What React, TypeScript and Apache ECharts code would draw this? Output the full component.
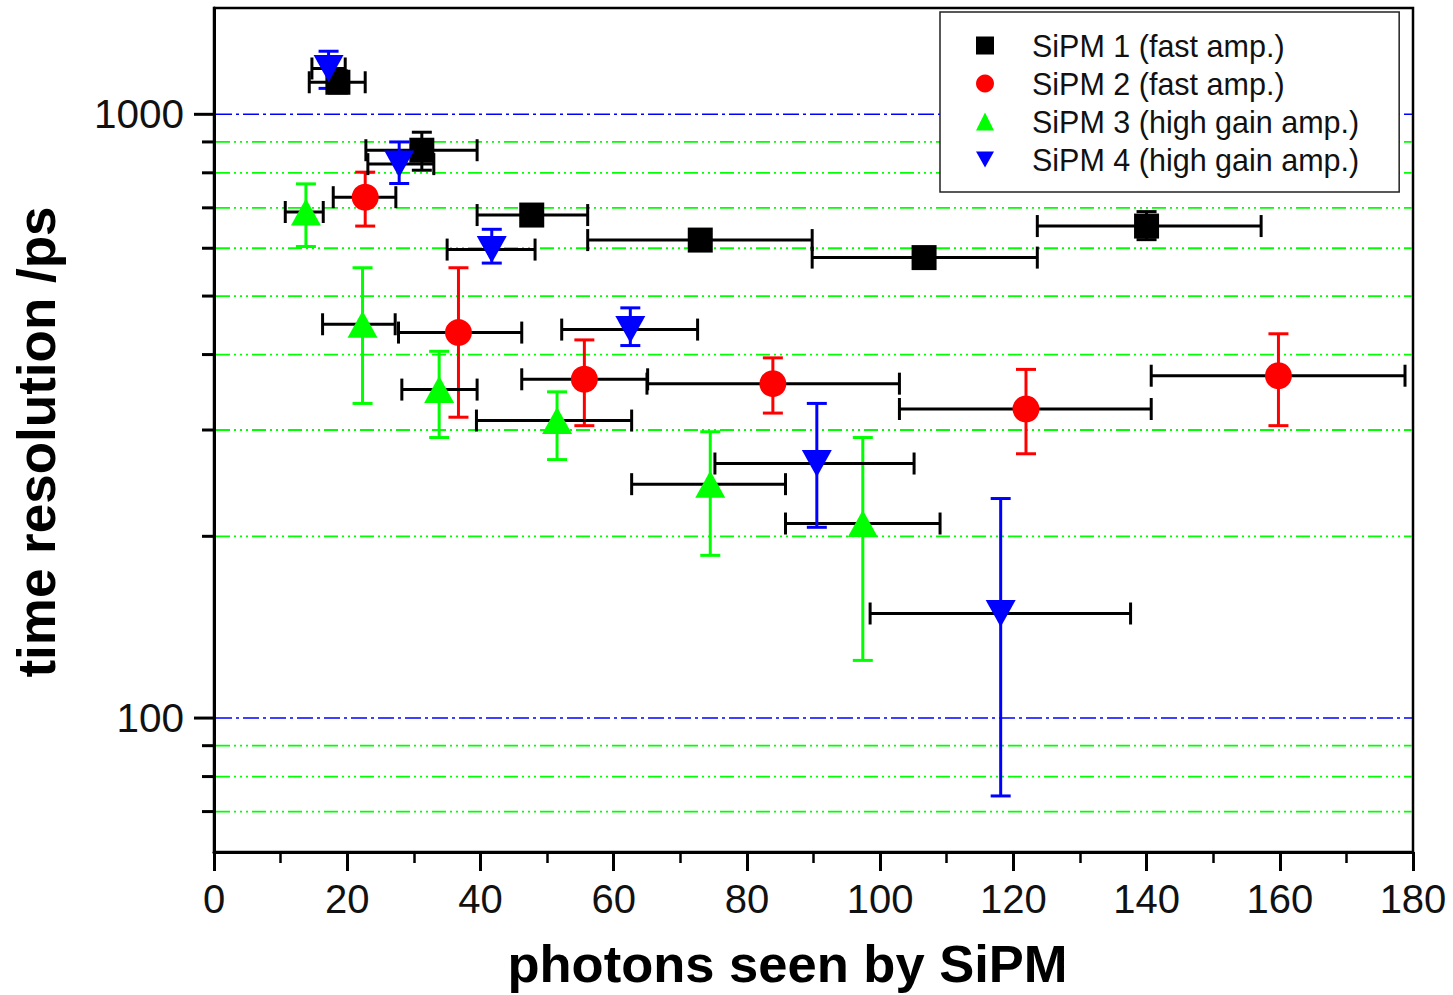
import React, { useEffect, useRef } from "react";
import * as echarts from "echarts";

// ---- data ----
const seriesNames = [
  "SiPM 1 (fast amp.)",
  "SiPM 2 (fast amp.)",
  "SiPM 3 (high gain amp.)",
  "SiPM 4 (high gain amp.)",
];

const sipm1X = [18.6, 31.2, 47.7, 73.0, 106.6, 140.0];
const sipm1Y = [1130, 872, 681, 619, 579, 653];
const sipm1XLow = [14.3, 22.8, 39.5, 56.1, 89.8, 123.6];
const sipm1XHigh = [22.7, 39.5, 56.1, 89.8, 123.6, 157.2];
const sipm1YLow = [1085, 808, 665, 605, 565, 620];
const sipm1YHigh = [1180, 934, 697, 633, 593, 690];

const sipm2X = [22.7, 36.7, 55.6, 83.9, 121.9, 159.8];
const sipm2Y = [729, 435, 364, 358, 325, 369];
const sipm2XLow = [17.9, 27.7, 46.2, 65.0, 102.9, 140.7];
const sipm2XHigh = [27.3, 46.2, 65.1, 102.9, 140.7, 178.8];
const sipm2YLow = [653, 315, 305, 320, 274, 305];
const sipm2YHigh = [802, 557, 423, 395, 378, 433];

const sipm3X = [13.8, 22.3, 33.8, 51.5, 74.5, 97.4];
const sipm3Y = [689, 449, 350, 311, 244, 210];
const sipm3XLow = [10.7, 16.3, 28.2, 39.4, 62.7, 85.8];
const sipm3XHigh = [16.4, 27.2, 39.5, 62.7, 85.8, 109.0];
const sipm3YLow = [604, 332, 291.5, 268, 186, 124.6];
const sipm3YHigh = [767, 557, 405, 347, 298, 291.5];

const sipm4X = [17.2, 27.8, 41.7, 62.5, 90.5, 118.1];
const sipm4Y = [1191, 827, 597, 440, 264, 149];
const sipm4XLow = [14.7, 23.1, 35.0, 52.2, 75.2, 98.5];
const sipm4XHigh = [19.7, 33.0, 48.2, 72.6, 105.1, 137.6];
const sipm4YLow = [1104, 768, 567, 414, 207, 74.3];
const sipm4YHigh = [1272, 900, 645, 478, 332, 231];

const yMajorTicks = [100, 1000];
const yMinorTicks = [70, 80, 90, 200, 300, 400, 500, 600, 700, 800, 900];

const colors = ["#000000", "#ff0000", "#00ff00", "#0000ff"];
const symbols = ["rect", "circle", "triangle", "path://M0,0L20,0L10,18Z"];
const symbolSizes: any[] = [25, 27, [30, 27], [30, 27]];
const legendIcons = ["rect", "circle", "triangle", "path://M0,0L20,0L10,18Z"];

const FONT = "'Liberation Sans', Arial, sans-serif";

function rows(x: number[], y: number[], xl: number[], xh: number[], yl: number[], yh: number[]) {
  return x.map((v, i) => [v, y[i], xl[i], xh[i], yl[i], yh[i]]);
}

const allRows = [
  rows(sipm1X, sipm1Y, sipm1XLow, sipm1XHigh, sipm1YLow, sipm1YHigh),
  rows(sipm2X, sipm2Y, sipm2XLow, sipm2XHigh, sipm2YLow, sipm2YHigh),
  rows(sipm3X, sipm3Y, sipm3XLow, sipm3XHigh, sipm3YLow, sipm3YHigh),
  rows(sipm4X, sipm4Y, sipm4XLow, sipm4XHigh, sipm4YLow, sipm4YHigh),
];

export default function App() {
  const ref = useRef<HTMLDivElement>(null);
  useEffect(() => {
    if (!ref.current) return;
    const chart = echarts.init(ref.current, null, { renderer: "svg" });

    const gridSeries = {
      type: "custom",
      name: "ygrid",
      silent: true,
      z: 1,
      data: [
        ...yMajorTicks.map((v) => [0, v, 1]),
        ...yMinorTicks.map((v) => [0, v, 0]),
      ],
      encode: { x: 0, y: 1 },
      renderItem: (params: any, api: any) => {
        const v = api.value(1);
        const major = api.value(2) === 1;
        const cs = params.coordSys;
        const p = api.coord([0, v]);
        const y = p[1];
        return {
          type: "group",
          children: [
            {
              type: "line",
              shape: { x1: cs.x + 2, y1: y, x2: cs.x + cs.width - 1, y2: y },
              style: major
                ? { stroke: "#0000ff", lineWidth: 1.5, lineDash: [16, 4, 3, 4] }
                : { stroke: "#00ff00", lineWidth: 1.8, lineDash: [14, 4, 2, 4, 2, 4, 2, 4] },
            },
            {
              type: "line",
              shape: { x1: cs.x - (major ? 20 : 12), y1: y, x2: cs.x, y2: y },
              style: { stroke: "#000", lineWidth: 3 },
            },
          ],
        };
      },
    };

    const errSeries = allRows.map((data, si) => ({
      type: "custom",
      name: "err" + si,
      silent: true,
      z: 2,
      data,
      encode: { x: [0, 2, 3], y: [1, 4, 5] },
      renderItem: (params: any, api: any) => {
        const x = api.value(0);
        const y = api.value(1);
        const pl = api.coord([api.value(2), y]);
        const ph = api.coord([api.value(3), y]);
        const pyl = api.coord([x, api.value(4)]);
        const pyh = api.coord([x, api.value(5)]);
        const bk = { stroke: "#000", lineWidth: 3 };
        const col = { stroke: colors[si], lineWidth: 3 };
        return {
          type: "group",
          children: [
            { type: "line", shape: { x1: pl[0], y1: pl[1], x2: ph[0], y2: ph[1] }, style: bk },
            { type: "line", shape: { x1: pl[0], y1: pl[1] - 11, x2: pl[0], y2: pl[1] + 11 }, style: bk },
            { type: "line", shape: { x1: ph[0], y1: ph[1] - 11, x2: ph[0], y2: ph[1] + 11 }, style: bk },
            { type: "line", shape: { x1: pyl[0], y1: pyl[1], x2: pyh[0], y2: pyh[1] }, style: col },
            { type: "line", shape: { x1: pyl[0] - 10, y1: pyl[1], x2: pyl[0] + 10, y2: pyl[1] }, style: col },
            { type: "line", shape: { x1: pyh[0] - 10, y1: pyh[1], x2: pyh[0] + 10, y2: pyh[1] }, style: col },
          ],
        };
      },
    }));

    const scatterSeries = allRows.map((data, si) => ({
      type: "scatter",
      name: seriesNames[si],
      z: 3,
      symbol: symbols[si],
      symbolSize: symbolSizes[si],
      itemStyle: { color: colors[si], opacity: 1 },
      data: data.map((r) => [r[0], r[1]]),
    }));

    chart.setOption({
      animation: false,
      backgroundColor: "#fff",
      grid: {
        left: 214,
        right: 40,
        top: 8,
        bottom: 142,
        show: true,
        borderColor: "#000",
        borderWidth: 2.5,
        backgroundColor: "transparent",
      },
      legend: {
        orient: "vertical",
        left: 940,
        top: 12,
        data: seriesNames.map((n, i) => ({ name: n, icon: legendIcons[i] })),
        itemWidth: 18,
        itemHeight: 18,
        itemGap: 7,
        padding: [18, 40, 17, 36],
        borderColor: "#222",
        borderWidth: 1.5,
        backgroundColor: "#fff",
        selectedMode: false,
        textStyle: {
          fontFamily: FONT,
          fontSize: 30.5,
          lineHeight: 30,
          color: "#111",
          padding: [0, 0, 0, 33],
        },
      },
      xAxis: {
        type: "value",
        min: 0,
        max: 180,
        interval: 20,
        name: "photons seen by SiPM",
        nameLocation: "middle",
        nameGap: 85,
        nameTextStyle: {
          fontFamily: FONT,
          fontSize: 52.5,
          fontWeight: "bold",
          color: "#000",
          padding: [0, 52, 0, 0],
        },
        axisLine: { show: true, lineStyle: { color: "#000", width: 3 } },
        axisTick: { show: true, inside: false, length: 19, lineStyle: { color: "#000", width: 3 } },
        minorTick: { show: true, splitNumber: 2, length: 11, lineStyle: { color: "#000", width: 2.5 } },
        axisLabel: { fontFamily: FONT, fontSize: 40, color: "#111", margin: 27 },
        splitLine: { show: false },
      },
      yAxis: {
        type: "log",
        logBase: 10,
        min: 60,
        max: 1500,
        name: "time resolution /ps",
        nameLocation: "middle",
        nameGap: 151,
        nameRotate: 90,
        nameTextStyle: {
          fontFamily: FONT,
          fontSize: 53,
          fontWeight: "bold",
          color: "#000",
          padding: [0, 24, 0, 0],
        },
        axisLine: { show: true, lineStyle: { color: "#000", width: 3 } },
        axisTick: { show: false },
        minorTick: { show: false },
        splitLine: { show: false },
        axisLabel: {
          fontFamily: FONT,
          fontSize: 40.5,
          color: "#111",
          margin: 30,
          showMinLabel: false,
          showMaxLabel: false,
          formatter: (v: number) => {
            for (const m of yMajorTicks) if (Math.abs(v - m) < 0.5) return String(m);
            return "";
          },
        },
      },
      series: [gridSeries, ...errSeries, ...scatterSeries],
    });
    return () => chart.dispose();
  }, []);
  return (
    <div
      ref={ref}
      style={{ position: "absolute", left: 0, top: 0, width: 1453, height: 995 }}
    />
  );
}
